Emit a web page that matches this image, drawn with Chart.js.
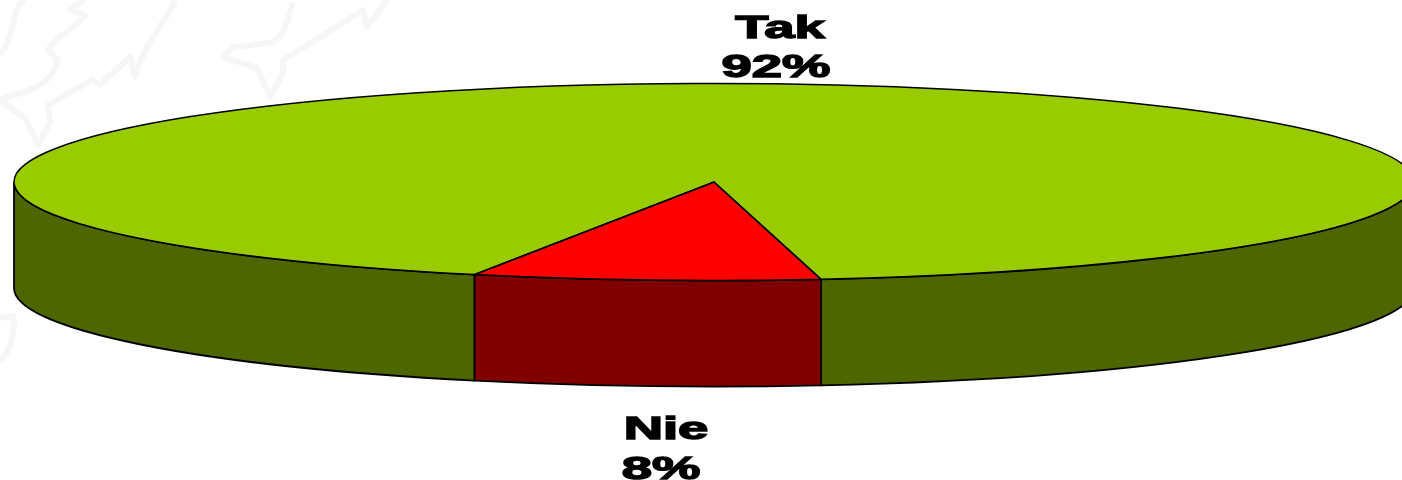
<!DOCTYPE html>
<html>
<head>
<meta charset="utf-8">
<style>
html, body { margin: 0; padding: 0; background: #fff; overflow: hidden; }
#wrap { position: relative; width: 1402px; height: 480px; }
#wrap svg, #wrap canvas { position: absolute; left: 0; top: 0; }
#chart { filter: blur(0.4px); }
</style>
<script src="https://cdn.jsdelivr.net/npm/chart.js@4"></script>
</head>
<body>
<div id="wrap">
<!-- faint map watermark behind the chart -->
<svg width="1402" height="480" fill="none" stroke="#f7f6f5" stroke-width="6" stroke-linejoin="round">
  <path d="M24,0 C10,12 18,30 0,55"/>
  <path d="M85,0 L70,10 L85,15 C75,30 60,32 48,50 L58,60 C50,90 25,90 0,100 L25,118 L38,145 L50,122 L48,105 L92,80 L100,85 L130,57 L135,77 C145,40 165,25 175,0"/>
  <path d="M293,3 C285,30 280,43 267,43 L233,47 L223,57 L257,68 L270,97 L283,73 L283,60 L327,33 L363,10 L367,27 L387,0"/>
  <path d="M0,318 L13,316 C16,335 10,350 0,362"/>
</svg>
<canvas id="chart" width="1402" height="480"></canvas>
</div>
<script>
var categories = ['Tak', 'Nie'];
var shares = [92, 8];
var topColors = ['#99cc00', '#ff0000'];
var sideColors = ['#4d6600', '#800000'];

// the flattened pie on the page
var cx = 714, cy = 182, rx = 700, ry = 98.5, depth = 106;

function sidePieces(s, e){
    var out = [];
    for(var k = -1; k < 3; k++){
        var a = Math.max(s, 2 * Math.PI * k);
        var b = Math.min(e, 2 * Math.PI * k + Math.PI);
        if(a < b) out.push([a, b]);
    }
    return out;
}

var pie3d = {
    id: 'pie3d',
    beforeDatasetsDraw: function(chart){
        var ctx = chart.ctx;
        var arcs = chart.getDatasetMeta(0).data;
        ctx.save();
        ctx.strokeStyle = '#000';
        ctx.lineWidth = 1.8;
        arcs.forEach(function(arc, i){
            sidePieces(arc.startAngle, arc.endAngle).forEach(function(p){
                ctx.beginPath();
                ctx.ellipse(cx, cy, rx, ry, 0, p[0], p[1]);
                ctx.ellipse(cx, cy + depth, rx, ry, 0, p[1], p[0], true);
                ctx.closePath();
                ctx.fillStyle = sideColors[i];
                ctx.fill();
                ctx.stroke();
            });
        });
        ctx.restore();
        // squash the real arcs into the top ellipse
        var first = arcs[0];
        ctx.save();
        ctx.translate(cx, cy);
        ctx.scale(rx / first.outerRadius, ry / first.outerRadius);
        ctx.translate(-first.x, -first.y);
    },
    afterDatasetsDraw: function(chart){
        var ctx = chart.ctx;
        ctx.restore();
        ctx.save();
        ctx.strokeStyle = '#000';
        ctx.lineWidth = 1.5;
        chart.getDatasetMeta(0).data.forEach(function(arc){
            ctx.beginPath();
            ctx.moveTo(cx, cy);
            ctx.ellipse(cx, cy, rx, ry, 0, arc.startAngle, arc.endAngle);
            ctx.closePath();
            ctx.stroke();
        });
        ctx.restore();
        drawLabels(ctx);
    }
};

function wideText(ctx, text, x, y){
    ctx.save();
    ctx.translate(x, y);
    ctx.scale(1.7, 1);
    ctx.fillText(text, 0, 0);
    ctx.strokeText(text, 0, 0);
    ctx.restore();
}

function drawLabels(ctx){
    ctx.save();
    ctx.font = 'bold 32px "Liberation Sans"';
    ctx.textAlign = 'center';
    ctx.textBaseline = 'alphabetic';
    ctx.fillStyle = '#000';
    ctx.strokeStyle = '#000';
    ctx.lineWidth = 1.4;
    wideText(ctx, categories[0], 780, 38);
    wideText(ctx, shares[0] + '%', 776, 77);
    wideText(ctx, categories[1], 666, 439);
    wideText(ctx, shares[1] + '%', 661, 479);
    ctx.restore();
}

new Chart(document.getElementById('chart').getContext('2d'), {
    type: 'pie',
    data: {
        labels: categories,
        datasets: [{
            data: shares,
            backgroundColor: topColors,
            borderWidth: 0,
            clip: false
        }]
    },
    options: {
        responsive: false,
        animation: false,
        rotation: 200,
        layout: { padding: 0 },
        plugins: {
            legend: { display: false },
            tooltip: { enabled: false }
        }
    },
    plugins: [pie3d]
});
</script>
</body>
</html>
